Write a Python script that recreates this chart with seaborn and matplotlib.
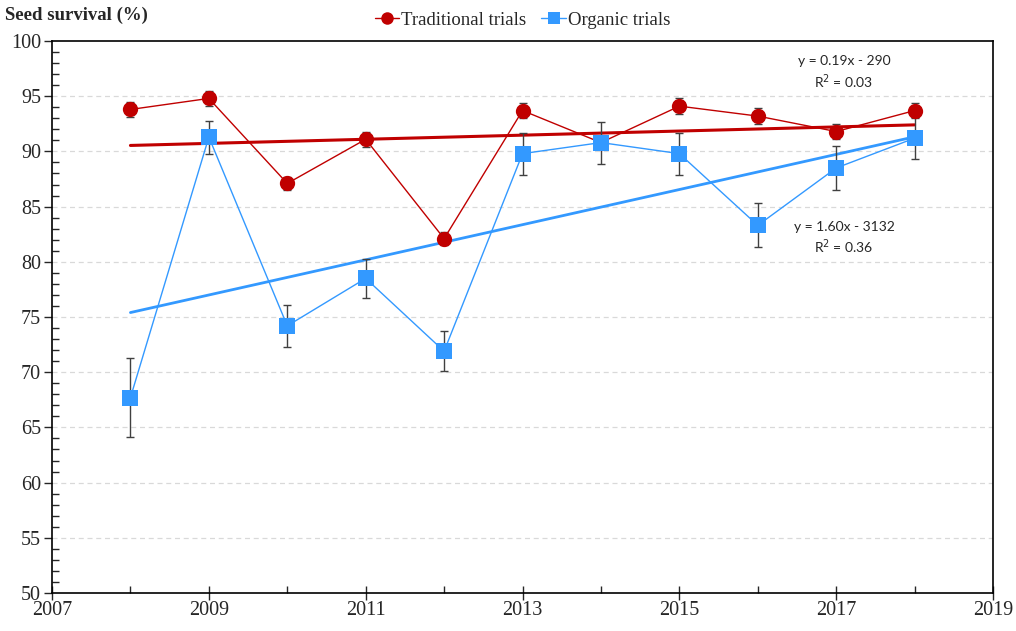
import numpy as np
import pandas as pd
import matplotlib
matplotlib.use("Agg")
import matplotlib.pyplot as plt
from matplotlib.ticker import MultipleLocator
import seaborn as sns

years = [2008, 2009, 2010, 2011, 2012, 2013, 2014, 2015, 2016, 2017, 2018]
traditional = [93.8, 94.8, 87.1, 91.1, 82.1, 93.7, 90.8, 94.1, 93.2, 91.8, 93.7]
traditional_err = [0.7, 0.7, 0.6, 0.7, 0.6, 0.7, 0.6, 0.7, 0.7, 0.7, 0.7]
organic = [67.7, 91.3, 74.2, 78.5, 71.9, 89.8, 90.8, 89.8, 83.3, 88.5, 91.2]
organic_err = [3.6, 1.5, 1.9, 1.8, 1.8, 1.9, 1.9, 1.9, 2.0, 2.0, 1.9]

red = "#C00000"
blue = "#3399FF"

sns.set_theme(style="white")
plt.rcParams["font.family"] = ["Liberation Serif", "DejaVu Serif"]

df = pd.DataFrame({
    "year": years * 2,
    "value": traditional + organic,
    "err": traditional_err + organic_err,
    "series": ["Traditional trials"] * len(years) + ["Organic trials"] * len(years),
})

fig = plt.figure(figsize=(10.16, 6.31), dpi=100)
ax = fig.add_axes([0.0512, 0.0602, 0.9262, 0.8748])

for yv in range(55, 100, 5):
    ax.axhline(yv, color="#D9D9D9", lw=0.9, ls=(0, (4, 3)), zorder=0)

# trend lines
for name, col, lw in [("Traditional trials", red, 2.2), ("Organic trials", blue, 2.0)]:
    sub = df[df.series == name]
    k, b = np.polyfit(sub.year, sub.value, 1)
    xs = np.array([years[0], years[-1]])
    ax.plot(xs, k * xs + b, color=col, lw=lw, zorder=2)

# error bars
for name in ["Traditional trials", "Organic trials"]:
    sub = df[df.series == name]
    ax.errorbar(sub.year, sub.value, yerr=sub.err, fmt="none", ecolor="#404040",
                elinewidth=1.0, capsize=3, capthick=1.0, zorder=3)

sns.lineplot(data=df, x="year", y="value", hue="series", style="series",
             palette={"Traditional trials": red, "Organic trials": blue},
             markers={"Traditional trials": "o", "Organic trials": "s"},
             dashes=False, markersize=11, markeredgewidth=0, lw=1.0,
             ax=ax, zorder=4)

ax.set_xlim(2007, 2019)
ax.set_ylim(50, 100)
ax.set_xlabel("")
ax.set_ylabel("")
ax.set_xticks(range(2007, 2020, 2))
ax.set_xticks(range(2008, 2019, 2), minor=True)
ax.yaxis.set_major_locator(MultipleLocator(5))
ax.yaxis.set_minor_locator(MultipleLocator(1))
ax.tick_params(axis="x", which="major", direction="inout", length=10, width=1, labelsize=14.5, pad=1,
               bottom=True)
ax.tick_params(axis="x", which="minor", direction="in", length=5, width=1, bottom=True)
ax.tick_params(axis="y", which="major", direction="out", length=6, width=1, labelsize=14.5, pad=2,
               left=True)
ax.tick_params(axis="y", which="minor", direction="in", length=5, width=1, left=True)
for sp in ax.spines.values():
    sp.set_color("black")
    sp.set_linewidth(1.2)

leg = ax.legend(loc="lower center", bbox_to_anchor=(0.5, 1.005), ncol=2, frameon=False,
                fontsize=13.5, handlelength=1.3, handletextpad=0.1, columnspacing=0.8,
                borderaxespad=0.1)
for h in leg.legend_handles:
    h.set_markersize(9)

fig.text(0.005, 0.99, "Seed survival (%)", fontsize=13.5, fontweight="bold", va="top", ha="left")

eq_font = ["Lato", "DejaVu Sans"]
ax.text(2017.1, 97.1, "y = 0.19x - 290\nR$^2$ = 0.03", ha="center", va="center", fontsize=10,
        family=eq_font, linespacing=1.3)
ax.text(2017.1, 82.1, "y = 1.60x - 3132\nR$^2$ = 0.36", ha="center", va="center", fontsize=10,
        family=eq_font, linespacing=1.3)

fig.savefig("out.png", dpi=100)
